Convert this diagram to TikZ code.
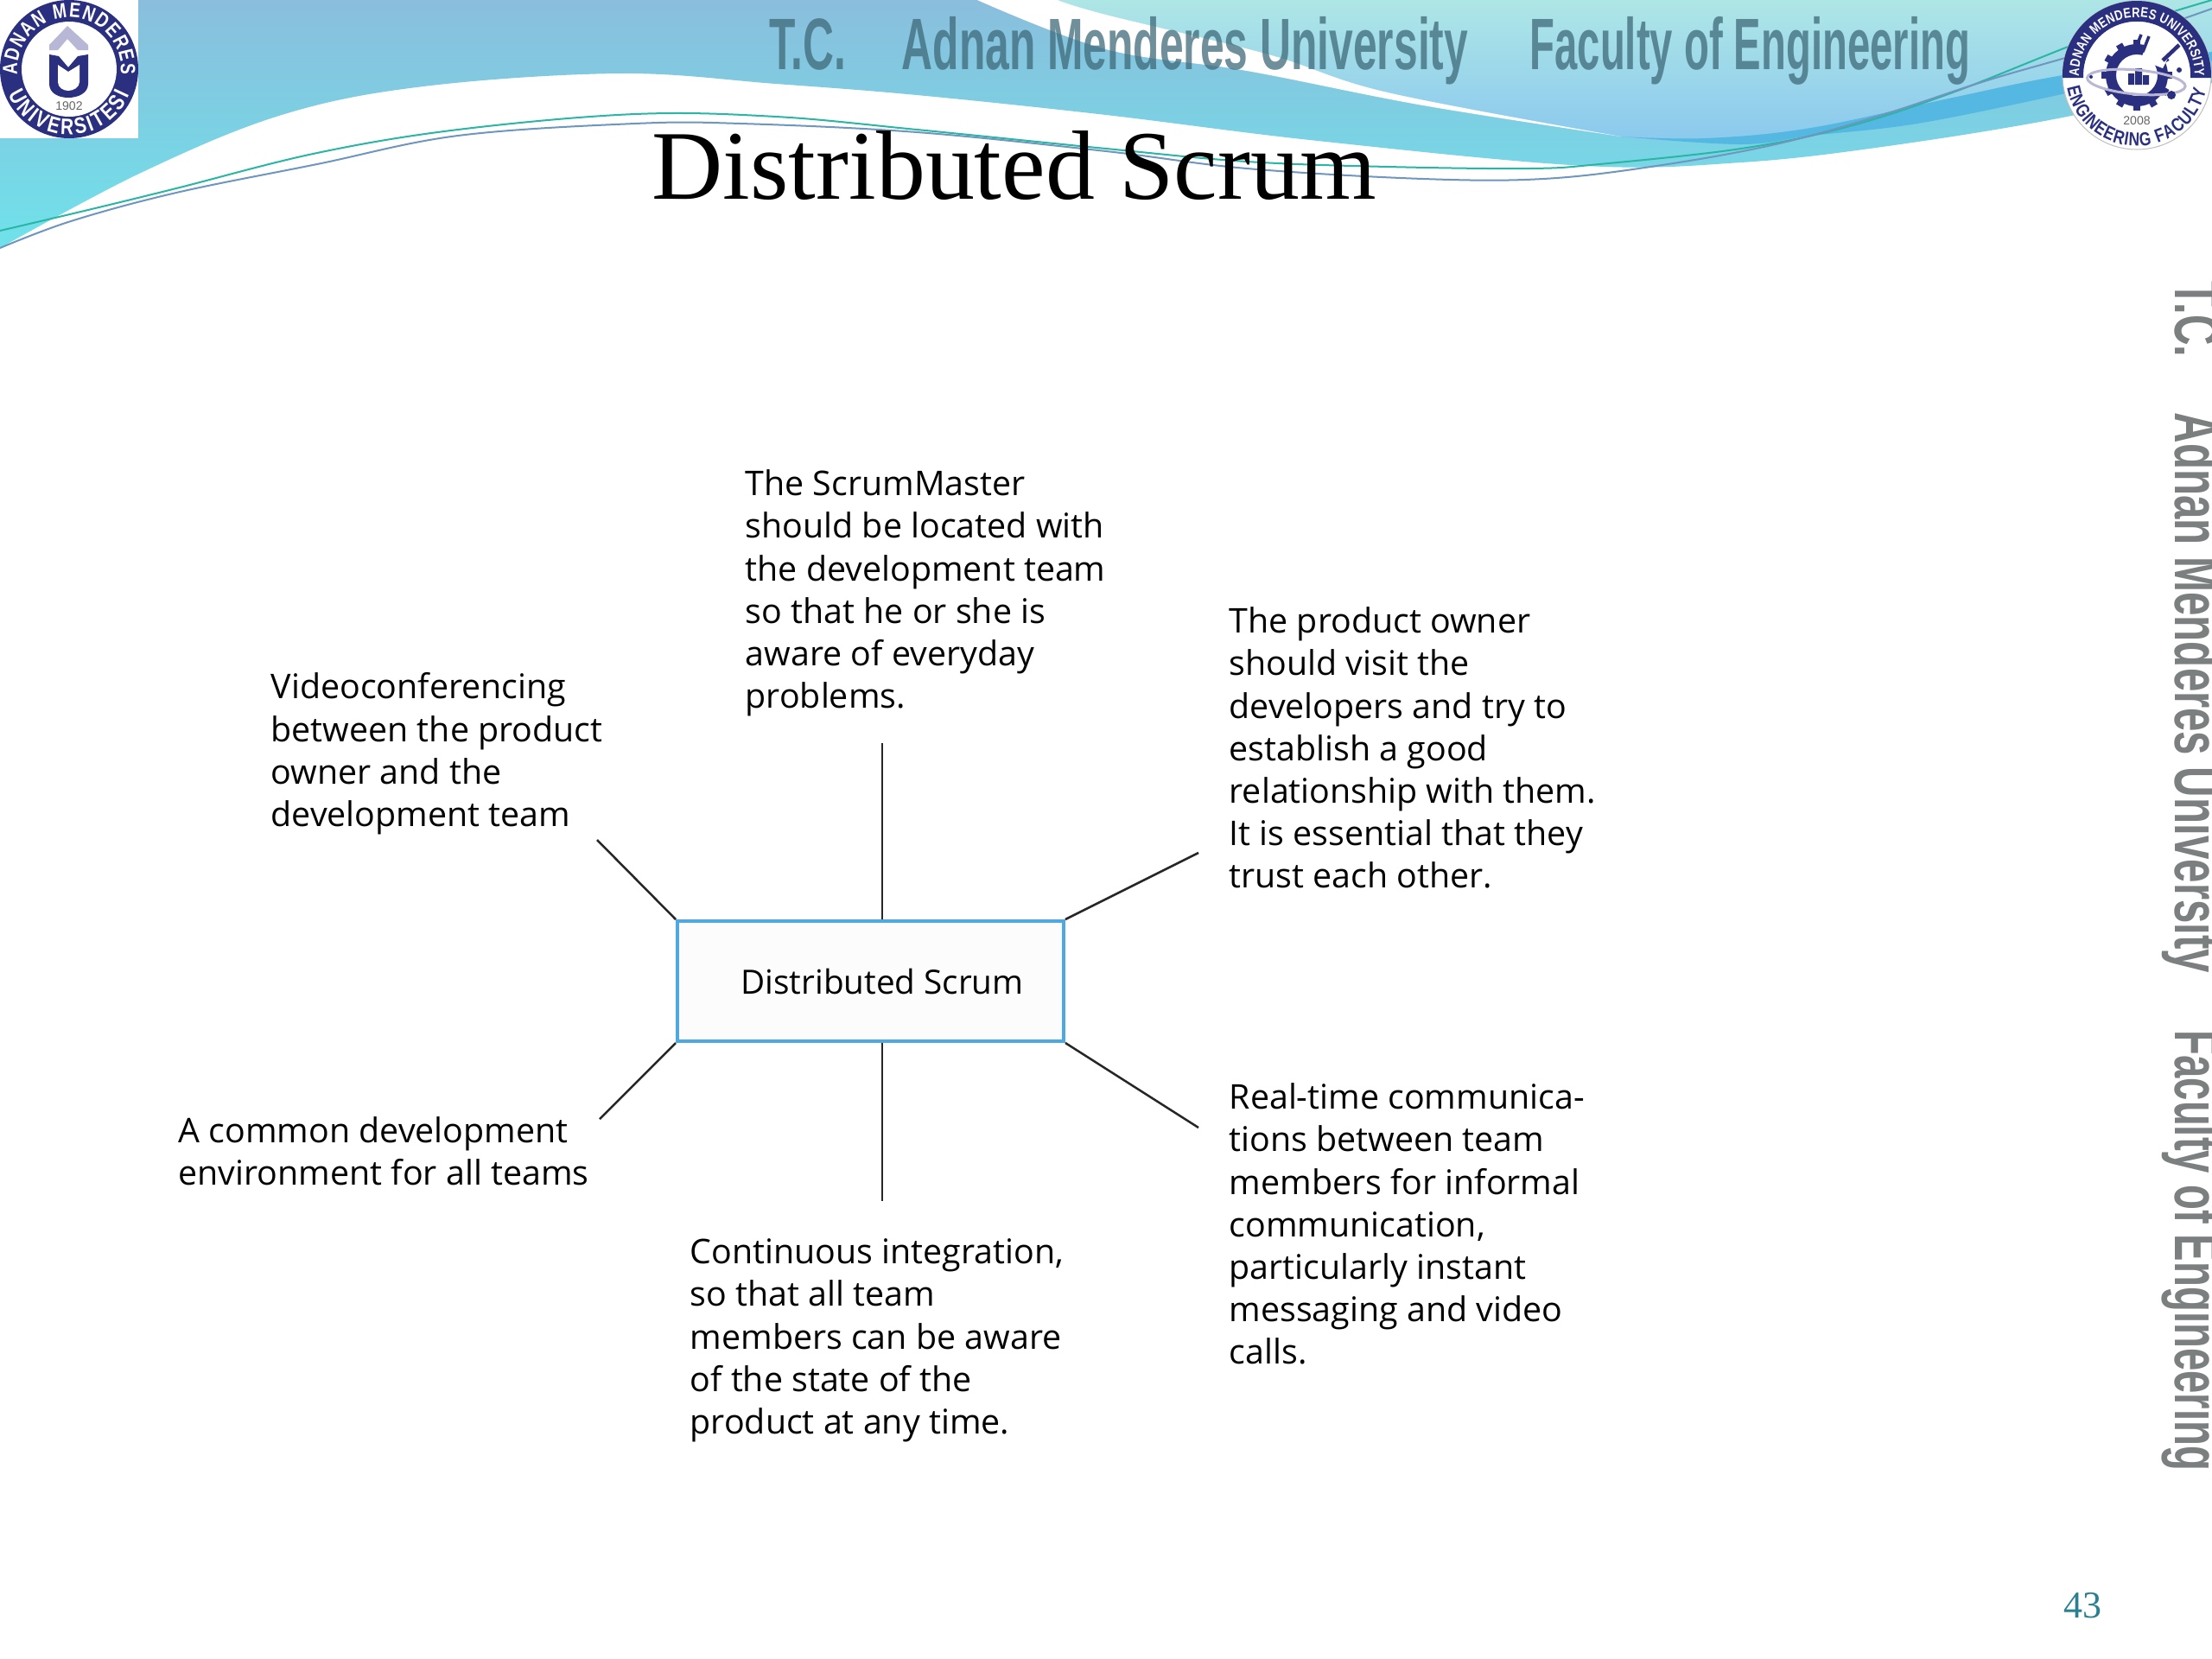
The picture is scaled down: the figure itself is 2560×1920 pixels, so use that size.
\documentclass[tikz,border=0pt]{standalone}
\usepackage{fontspec}
\setmainfont{Open Sans}
\setsansfont{Liberation Sans}
\newfontfamily\titlefont{Liberation Serif}
\newfontfamily\headfont[FakeStretch=0.59]{Liberation Sans Bold}
\newfontfamily\headfontb[FakeStretch=0.56]{Liberation Sans Bold}
\newfontfamily\sidefont[FakeStretch=0.667]{Liberation Sans Bold}
\newfontfamily\sidefontb[FakeStretch=0.64]{Liberation Sans Bold}
\newfontfamily\ringnarrow[FakeStretch=0.8]{Liberation Sans Bold}
\definecolor{LogoNavy}{HTML}{2B2F7F}
\definecolor{LogoLilac}{HTML}{B9B7D6}
\definecolor{BoxBlue}{HTML}{4FA8E0}
\definecolor{BandBlue}{HTML}{55B8E2}
\definecolor{PageTeal}{HTML}{2A7F90}
\definecolor{HeadGrey}{HTML}{3F6A7A}
\definecolor{SideGrey}{HTML}{7C7F80}
\definecolor{SkyTop}{HTML}{8ABEDC}
\definecolor{SkyLow}{HTML}{6FE2EA}
\definecolor{PaleTop}{HTML}{AEE6E6}
\definecolor{PaleLow}{HTML}{8AC8EE}
\definecolor{LineTeal}{HTML}{2AB5A5}
\definecolor{LineBlue}{HTML}{6E96BE}
\usetikzlibrary{
  positioning, decorations.text, shapes.geometric
}
\newcommand{\ringfont}[1]{\ringnarrow\fontsize{#1}{8}\selectfont}

\begin{document}
\begin{tikzpicture}[
  x=0.1mm, y=-0.1mm,
  bodytext/.style={anchor=north west, inner sep=0pt, align=left, font=\fontsize{11.2}{14}\selectfont},
  headtext/.style={anchor=base west, inner sep=0pt, text=HeadGrey, text opacity=0.75},
  sidetext/.style={anchor=base west, inner sep=0pt, rotate=-90, text=SideGrey},
  spoke/.style={draw=black!85, line width=0.25mm},
  ringtext/.style={decorate, decoration={text along path, text align={fit to path}, text={#1}}},
]
  \clip (0,0) rectangle (2560,1920);
  \fill[white] (0,0) rectangle (2560,1920);

  % Header waves
  \path[top color=SkyTop, bottom color=SkyLow]
    (0,0) -- (2560,0) -- (2560,96) -- plot[smooth, tension=0.6] coordinates {(2560,96) (2382,137) (2178,170) (2015,188) (1835,192) (1525,163) (1280,133) (1061,110) (898,97) (718,85) (490,100) (326,133) (163,200) (0,287)} -- cycle;
  \path[top color=PaleTop, bottom color=PaleLow]
    (1224,0) -- (2560,0) -- (2560,60) -- plot[smooth, tension=0.6] coordinates {(2560,60) (2382,88) (2260,113) (2096,148) (1974,160) (1876,158) (1606,107) (1468,63) (1280,17) (1224,0)} -- cycle;
  \fill[white] (1131,0) -- plot[smooth, tension=0.6] coordinates {(1131,0) (1280,57) (1443,82) (1647,122) (1876,158)} -- plot[smooth, tension=0.6] coordinates {(1876,158) (1606,107) (1468,63) (1280,17) (1224,0)} -- cycle;
  \fill[BandBlue] (1876,158) -- plot[smooth, tension=0.6] coordinates {(1876,158) (2015,167) (2096,157) (2219,143) (2382,110) (2560,70)} -- plot[smooth, tension=0.6] coordinates {(2560,60) (2382,88) (2260,113) (2096,148) (1974,160) (1876,158)} -- cycle;

  \draw[LineTeal, line width=0.2mm] plot[smooth, tension=0.6] coordinates {(0,267) (106,242) (204,218) (367,177) (530,150) (735,132) (898,135) (1061,150) (1280,172) (1443,187) (1606,193) (1770,195) (1851,190) (2015,172) (2137,147) (2260,107) (2423,43) (2560,0)};
  \draw[LineBlue, line width=0.2mm] plot[smooth, tension=0.6] coordinates {(0,287) (82,256) (204,223) (367,190) (530,157) (735,143) (857,143) (1061,153) (1280,175) (1443,195) (1647,207) (1786,207) (1917,192) (2055,167) (2178,133) (2300,93) (2423,57) (2560,10)};

  % University logo
  \fill[white] (0,0) rectangle (160,160);
  \begin{scope}[shift={(80,80)}, y=0.1mm]
    \fill[LogoNavy] (0,0) circle[radius=80];
    \fill[white] (0,0) circle[radius=55];
    \fill[LogoLilac] (-2,50) -- (-23,28) -- (-23,22) -- (-13,22) -- (-2,35) -- (10,22) -- (22,22) -- (22,28) -- cycle;
    \fill[LogoNavy] (-23,17) -- (-23,-17) .. controls (-23,-28) and (-12,-33) .. (-1,-33) .. controls (10,-33) and (22,-28) .. (22,-17) -- (22,17) -- (10,15) -- (-1,2) -- (-12,15) -- cycle;
    \fill[white] (-13,5) -- (-13,-15) .. controls (-13,-21) and (-7,-25) .. (-1,-25) .. controls (5,-25) and (12,-21) .. (12,-15) -- (12,5) -- (-1,-3) -- cycle;
    \path[ringtext={|\ringfont{6.8}\color{white}|ADNAN MENDERES}] (186:60) arc[start angle=186, end angle=-6, radius=60];
    \path[ringtext={|\ringfont{7.4}\color{white}|UNIVERSITESI}] (203:76) arc[start angle=203, end angle=337, radius=76];
    \node[font=\sffamily\fontsize{4}{4}\selectfont, text=black!60, inner sep=0pt] (leftYear) at (0,-43) {1902};
  \end{scope}

  % Faculty logo
  \begin{scope}[shift={(2473,87)}, y=0.1mm]
    \fill[white] (0,0) circle[radius=86];
    \draw[black!25, line width=0.1mm] (0,0) circle[radius=86];
    \fill[LogoNavy] (-86,-3) arc[start angle=182, end angle=-2, radius=86] -- (62,-3) arc[start angle=-3, end angle=183, radius=62] -- cycle;
    \foreach \a in {0,30,...,330}
      \fill[LogoNavy, rotate=\a] (33,-4) rectangle (41,4);
    \fill[LogoNavy, even odd rule] (0,0) circle[radius=36] (0,0) circle[radius=24];
    \fill[white] (4,18) -- (14,40) -- (46,40) -- (30,8) -- cycle;
    \draw[LogoNavy, line width=0.35mm] (5,47) -- (-3,27) (14,45) -- (7,27);
    \draw[LogoNavy, line width=0.45mm] (49,35) -- (30,17);
    \fill[LogoNavy] (-10,-11) rectangle (-3,2) (-2,-11) rectangle (6,8) (7,-11) rectangle (14,0);
    \draw[LogoLilac, line width=0.3mm, rotate=-5] (0,-8) ellipse[x radius=57, y radius=14];
    \fill[LogoNavy] (40,-23) circle[radius=5] (-53,-2) circle[radius=2] (49,6) circle[radius=3];
    \path[ringtext={|\ringfont{4.6}\color{white}|ADNAN MENDERES UNIVERSITY}] (181:67) arc[start angle=181, end angle=-1, radius=67];
    \path[ringtext={|\ringfont{6.2}\color{LogoNavy}|ENGINEERING FACULTY}] (190:82) arc[start angle=190, end angle=348, radius=82];
    \node[font=\sffamily\fontsize{4}{4}\selectfont, text=black!60, inner sep=0pt] (rightYear) at (0,-53) {2008};
  \end{scope}

  % Header and side lettering
  \node[headtext, font=\headfont\fontsize{24}{24}\selectfont] (headTC) at (890,80) {T.C.};
  \node[headtext, font=\headfont\fontsize{24}{24}\selectfont] (headUni) at (1043,80) {Adnan Menderes University};
  \node[headtext, font=\headfontb\fontsize{24}{24}\selectfont] (headFac) at (1770,80) {Faculty of Engineering};
  \node[sidetext, font=\sidefont\fontsize{21}{21}\selectfont] (sideTC) at (2517,325) {T.C.};
  \node[sidetext, font=\sidefont\fontsize{21}{21}\selectfont] (sideUni) at (2517,477) {Adnan Menderes University};
  \node[sidetext, font=\sidefontb\fontsize{21}{21}\selectfont] (sideFac) at (2517,1192) {Faculty of Engineering};

  \node[anchor=base west, inner sep=0pt, font=\titlefont\fontsize{32.4}{36}\selectfont] (title) at (754,230) {Distributed Scrum};

  % Diagram
  \node[draw=BoxBlue, fill=black!1, line width=0.4mm, inner sep=0pt, minimum width=4.47cm, minimum height=1.39cm, font=\fontsize{11}{14}\selectfont] (box) at (1007.5,1135.5) {\hspace*{2.7mm}Distributed Scrum};

  \node[bodytext] (master) at (862,543) {The ScrumMaster\\should be located with\\the development team\\so that he or she is\\aware of everyday\\problems.};
  \node[bodytext] (owner) at (1422,702) {The product owner\\should visit the\\developers and try to\\establish a good\\relationship with them.\\It is essential that they\\trust each other.};
  \node[bodytext] (video) at (313,778) {Videoconferencing\\between the product\\owner and the\\development team};
  \node[bodytext] (common) at (206,1292) {A common development\\environment for all teams};
  \node[bodytext] (integration) at (798,1433) {Continuous integration,\\so that all team\\members can be aware\\of the state of the\\product at any time.};
  \node[bodytext] (realtime) at (1422,1253) {Real-time communica-\\tions between team\\members for informal\\communication,\\particularly instant\\messaging and video\\calls.};

  \coordinate (endMaster) at (1021,860);
  \coordinate (endOwner) at (1387,987);
  \coordinate (endVideo) at (691,972);
  \coordinate (endCommon) at (694,1295);
  \coordinate (endIntegration) at (1021,1390);
  \coordinate (endRealtime) at (1387,1305);

  \draw[spoke] (box.north -| endMaster) -- (endMaster);
  \draw[spoke] (box.north east) -- (endOwner);
  \draw[spoke] (box.north west) -- (endVideo);
  \draw[spoke] (box.south west) -- (endCommon);
  \draw[spoke] (box.south -| endIntegration) -- (endIntegration);
  \draw[spoke] (box.south east) -- (endRealtime);

  \node[inner sep=0pt, text=PageTeal, font=\titlefont\fontsize{12.5}{14}\selectfont] (pageNo) at (2410,1858) {43};
\end{tikzpicture}
\end{document}
